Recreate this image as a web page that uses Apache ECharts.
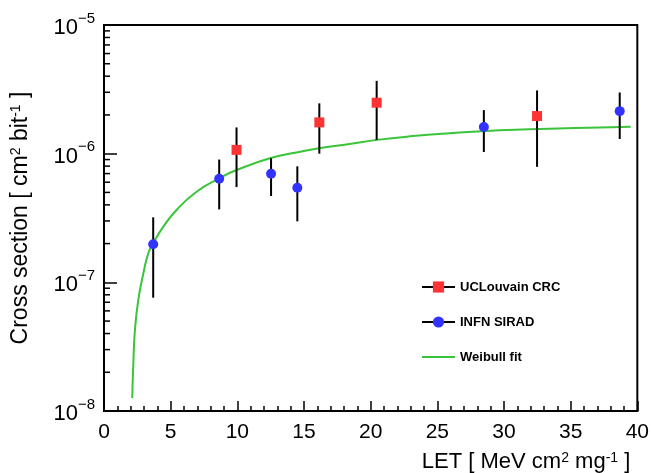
<!DOCTYPE html>
<html>
<head>
<meta charset="utf-8">
<script src="https://cdn.jsdelivr.net/npm/echarts@6/dist/echarts.min.js"></script>
<style>
    html, body { margin: 0; background: #fff; }
    #chart { width: 652px; height: 473px; }
</style>
</head>
<body>
<div id="chart"></div>
<script>
    // UCLouvain CRC (red squares)
    var uclLet = [9.94, 16.15, 20.45, 32.48];
    var uclXs = [1.07e-6, 1.75e-6, 2.49e-6, 1.96e-6];
    var uclLo = [5.5e-7, 1.0e-6, 1.28e-6, 7.9e-7];
    var uclHi = [1.6e-6, 2.46e-6, 3.68e-6, 3.1e-6];

    // INFN SIRAD (blue circles)
    var siradLet = [3.69, 8.64, 12.53, 14.5, 28.49, 38.68];
    var siradXs = [1.98e-7, 6.38e-7, 6.98e-7, 5.43e-7, 1.61e-6, 2.14e-6];
    var siradLo = [7.6e-8, 3.69e-7, 4.69e-7, 2.98e-7, 1.03e-6, 1.30e-6];
    var siradHi = [3.2e-7, 9.0e-7, 9.2e-7, 7.97e-7, 2.18e-6, 2.99e-6];

    // Weibull fit
    var fitLet = [2.12, 2.2, 2.32, 2.57, 2.95, 3.32, 3.69, 4.44, 5.44, 6.94, 8.64, 9.94, 12.56, 14.43, 16.13, 18.18, 20.47, 23.17, 25.9, 29.7, 33.4, 37.2, 39.5];
    var fitXs = [1.26e-8, 2.35e-8, 4.26e-8, 7.28e-8, 1.17e-7, 1.68e-7, 2.01e-7, 2.70e-7, 3.65e-7, 5.06e-7, 6.43e-7, 7.46e-7, 9.29e-7, 1.02e-6, 1.10e-6, 1.18e-6, 1.28e-6, 1.37e-6, 1.44e-6, 1.52e-6, 1.56e-6, 1.60e-6, 1.62e-6];

    // axis ticks
    var decades = [1e-8, 1e-7, 1e-6];
    var minorSteps = [2, 3, 4, 5, 6, 7, 8, 9];

    var font = 'Liberation Sans, Arial, Helvetica, sans-serif';

    var yMinor = [];
    decades.forEach(function (d) {
        minorSteps.forEach(function (m) {
            yMinor.push([0, d * m]);
        });
    });

    function errorBars(lets, lo, hi) {
        return {
            type: 'custom',
            silent: true,
            z: 3,
            data: lets.map(function (x, i) { return [x, lo[i], hi[i]]; }),
            encode: { x: 0, y: [1, 2] },
            renderItem: function (params, api) {
                var a = api.coord([api.value(0), api.value(1)]);
                var b = api.coord([api.value(0), api.value(2)]);
                return {
                    type: 'line',
                    shape: { x1: a[0], y1: a[1], x2: b[0], y2: b[1] },
                    style: { stroke: '#000', lineWidth: 2 }
                };
            }
        };
    }

    var chart = echarts.init(document.getElementById('chart'));
    var option = {
        animation: false,
        backgroundColor: '#fff',
        grid: {
            left: 104, right: 13, top: 25, bottom: 62,
            show: true,
            borderColor: '#000',
            borderWidth: 2
        },
        legend: {
            orient: 'vertical',
            left: 416,
            top: 275,
            itemWidth: 33,
            itemHeight: 14,
            itemGap: 21,
            selectedMode: false,
            textStyle: { color: '#000', fontSize: 13, fontWeight: 'bold', fontFamily: font, lineHeight: 14 },
            data: [
                { name: 'UCLouvain CRC', lineStyle: { color: '#000', width: 2, opacity: 1 } },
                { name: 'INFN SIRAD', lineStyle: { color: '#000', width: 2, opacity: 1 } },
                { name: 'Weibull fit', itemStyle: { opacity: 0 } }
            ]
        },
        xAxis: {
            type: 'value',
            min: 0,
            max: 40,
            interval: 5,
            name: '{n|LET [ MeV cm}{s|2}{n| mg}{s|-1}{n| ]}',
            nameLocation: 'end',
            nameGap: -7,
            nameTextStyle: {
                align: 'right',
                verticalAlign: 'top',
                padding: [40, 0, 0, 0],
                rich: {
                    n: { fontSize: 22, fontFamily: font, color: '#000' },
                    s: { fontSize: 14, fontFamily: font, color: '#000', verticalAlign: 'top', padding: [0, 0, 8, 0] }
                }
            },
            axisLine: { lineStyle: { color: '#000', width: 2 } },
            axisTick: { inside: true, length: 10, lineStyle: { color: '#000', width: 1.5 } },
            minorTick: { show: true, splitNumber: 5, length: 5, lineStyle: { color: '#000', width: 1.5 } },
            axisLabel: { color: '#000', fontSize: 21, fontFamily: font, margin: 11 },
            splitLine: { show: false }
        },
        yAxis: {
            type: 'log',
            logBase: 10,
            min: 1e-8,
            max: 1e-5,
            name: '{n|Cross section [ cm}{s|2}{n| bit}{s|-1}{n| ]}',
            nameLocation: 'middle',
            nameGap: 72,
            nameTextStyle: {
                rich: {
                    n: { fontSize: 23, fontFamily: font, color: '#000' },
                    s: { fontSize: 14, fontFamily: font, color: '#000', verticalAlign: 'top', padding: [0, 0, 9, 0] }
                }
            },
            axisLine: { show: true, lineStyle: { color: '#000', width: 2 } },
            axisTick: { inside: true, length: 13, lineStyle: { color: '#000', width: 1.5 } },
            axisLabel: {
                margin: 9,
                formatter: function (v) {
                    var e = Math.round(Math.log10(v));
                    return '{b|10}{e|\u2212' + Math.abs(e) + '}';
                },
                rich: {
                    b: { fontSize: 22, fontFamily: font, color: '#000', padding: [6, 0, 0, 0] },
                    e: { fontSize: 15, fontFamily: font, color: '#000', verticalAlign: 'top', padding: [0, 0, 10, 0] }
                }
            },
            splitLine: { show: false }
        },
        series: [
            {
                // minor ticks of the log axis
                type: 'custom',
                silent: true,
                data: yMinor,
                renderItem: function (params, api) {
                    var p = api.coord([api.value(0), api.value(1)]);
                    return {
                        type: 'line',
                        shape: { x1: p[0], y1: p[1], x2: p[0] + 6, y2: p[1] },
                        style: { stroke: '#000', lineWidth: 1.5 }
                    };
                }
            },
            {
                name: 'Weibull fit',
                type: 'line',
                smooth: 0.5,
                symbol: 'none',
                color: '#3ac43a',
                lineStyle: { color: '#3ac43a', width: 2 },
                data: fitLet.map(function (x, i) { return [x, fitXs[i]]; }),
                z: 2
            },
            errorBars(uclLet, uclLo, uclHi),
            errorBars(siradLet, siradLo, siradHi),
            {
                name: 'UCLouvain CRC',
                type: 'line',
                symbol: 'rect',
                symbolSize: 10,
                color: '#ff3333',
                itemStyle: { color: '#ff3333' },
                lineStyle: { opacity: 0 },
                data: uclLet.map(function (x, i) { return [x, uclXs[i]]; }),
                z: 5
            },
            {
                name: 'INFN SIRAD',
                type: 'line',
                symbol: 'circle',
                symbolSize: 10,
                color: '#3333ff',
                itemStyle: { color: '#3333ff' },
                lineStyle: { opacity: 0 },
                data: siradLet.map(function (x, i) { return [x, siradXs[i]]; }),
                z: 5
            }
        ]
    };
    chart.setOption(option);
</script>
</body>
</html>
